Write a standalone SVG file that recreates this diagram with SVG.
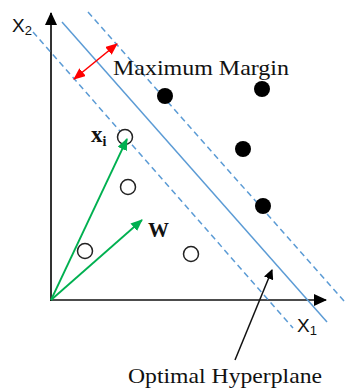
<svg xmlns="http://www.w3.org/2000/svg" width="345" height="391" viewBox="0 0 345 391">
<style>
.serif{font-family:"Liberation Serif","Times New Roman",serif;fill:#111}
.sans{font-family:"Liberation Sans",Arial,sans-serif;fill:#111}
.hyp{stroke:#5b9bd5;stroke-width:1.5;fill:none}
.dash{stroke:#5b9bd5;stroke-width:1.5;fill:none;stroke-dasharray:6 4}
.pos{fill:#000}
.neg{fill:#fff;stroke:#222;stroke-width:1.5}
.vec{stroke:#00b050;stroke-width:1.8;fill:none}
</style>
<defs>
<marker id="ah" markerWidth="10" markerHeight="10" refX="9" refY="5" orient="auto" markerUnits="userSpaceOnUse"><path d="M0,0 L10,5 L0,10 Z" fill="#000"/></marker>
<marker id="axh" markerWidth="13" markerHeight="12" refX="12" refY="6" orient="auto" markerUnits="userSpaceOnUse"><path d="M0,0 L13,6 L0,12 Z" fill="#000"/></marker>
<marker id="gh" markerWidth="12" markerHeight="10" refX="11" refY="5" orient="auto" markerUnits="userSpaceOnUse"><path d="M0,0 L12,5 L0,10 Z" fill="#00b050"/></marker>
<marker id="rh" markerWidth="12" markerHeight="10" refX="11" refY="5" orient="auto" markerUnits="userSpaceOnUse"><path d="M0,0 L12,5 L0,10 Z" fill="#ff0000"/></marker>
<marker id="rt" markerWidth="12" markerHeight="10" refX="1" refY="5" orient="auto" markerUnits="userSpaceOnUse"><path d="M12,0 L0,5 L12,10 Z" fill="#ff0000"/></marker>
</defs>
<g id="axes">
<line x1="51" y1="301" x2="51" y2="13" stroke="#333" stroke-width="2" marker-end="url(#axh)"/>
<line x1="50" y1="300" x2="326" y2="300" stroke="#111" stroke-width="1.6" marker-end="url(#axh)"/>
<text class="sans" x="12" y="32" font-size="19">X<tspan font-size="13" dy="3">2</tspan></text>
<text class="sans" x="297" y="332" font-size="19">X<tspan font-size="13" dy="3">1</tspan></text>
</g>
<g id="hyperplane">
<line class="hyp" x1="62" y1="22" x2="327" y2="322"/>
</g>
<g id="margins">
<line class="dash" x1="88" y1="12" x2="345" y2="302"/>
<line class="dash" x1="33" y1="32" x2="293" y2="328"/>
</g>
<g id="positive-points">
<circle class="pos" cx="165" cy="96" r="8"/>
<circle class="pos" cx="262" cy="89" r="8"/>
<circle class="pos" cx="243" cy="149" r="8"/>
<circle class="pos" cx="263" cy="206" r="8"/>
</g>
<g id="negative-points">
<circle class="neg" cx="125" cy="137" r="7.5"/>
<circle class="neg" cx="128" cy="187" r="7.5"/>
<circle class="neg" cx="85" cy="251" r="7.5"/>
<circle class="neg" cx="191" cy="254" r="7.5"/>
</g>
<g id="connectors">
<line class="vec" x1="51" y1="300" x2="127" y2="139" marker-end="url(#gh)"/>
<line class="vec" x1="51" y1="300" x2="142" y2="220" marker-end="url(#gh)"/>
<line x1="74" y1="79" x2="117" y2="44" stroke="#ff0000" stroke-width="1.6" marker-start="url(#rt)" marker-end="url(#rh)"/>
<line x1="235" y1="360" x2="272" y2="270" stroke="#111" stroke-width="1.5" marker-end="url(#ah)"/>
</g>
<g id="labels">
<text class="serif" x="91" y="142" font-size="23" font-weight="bold">x<tspan font-size="14" dy="4">i</tspan></text>
<text class="serif" x="148" y="237" font-size="21" font-weight="bold">W</text>
<text class="serif" x="113" y="75" font-size="22" textLength="176" lengthAdjust="spacingAndGlyphs">Maximum Margin</text>
<text class="serif" x="128" y="383" font-size="22" textLength="194" lengthAdjust="spacingAndGlyphs">Optimal Hyperplane</text>
</g>
</svg>
